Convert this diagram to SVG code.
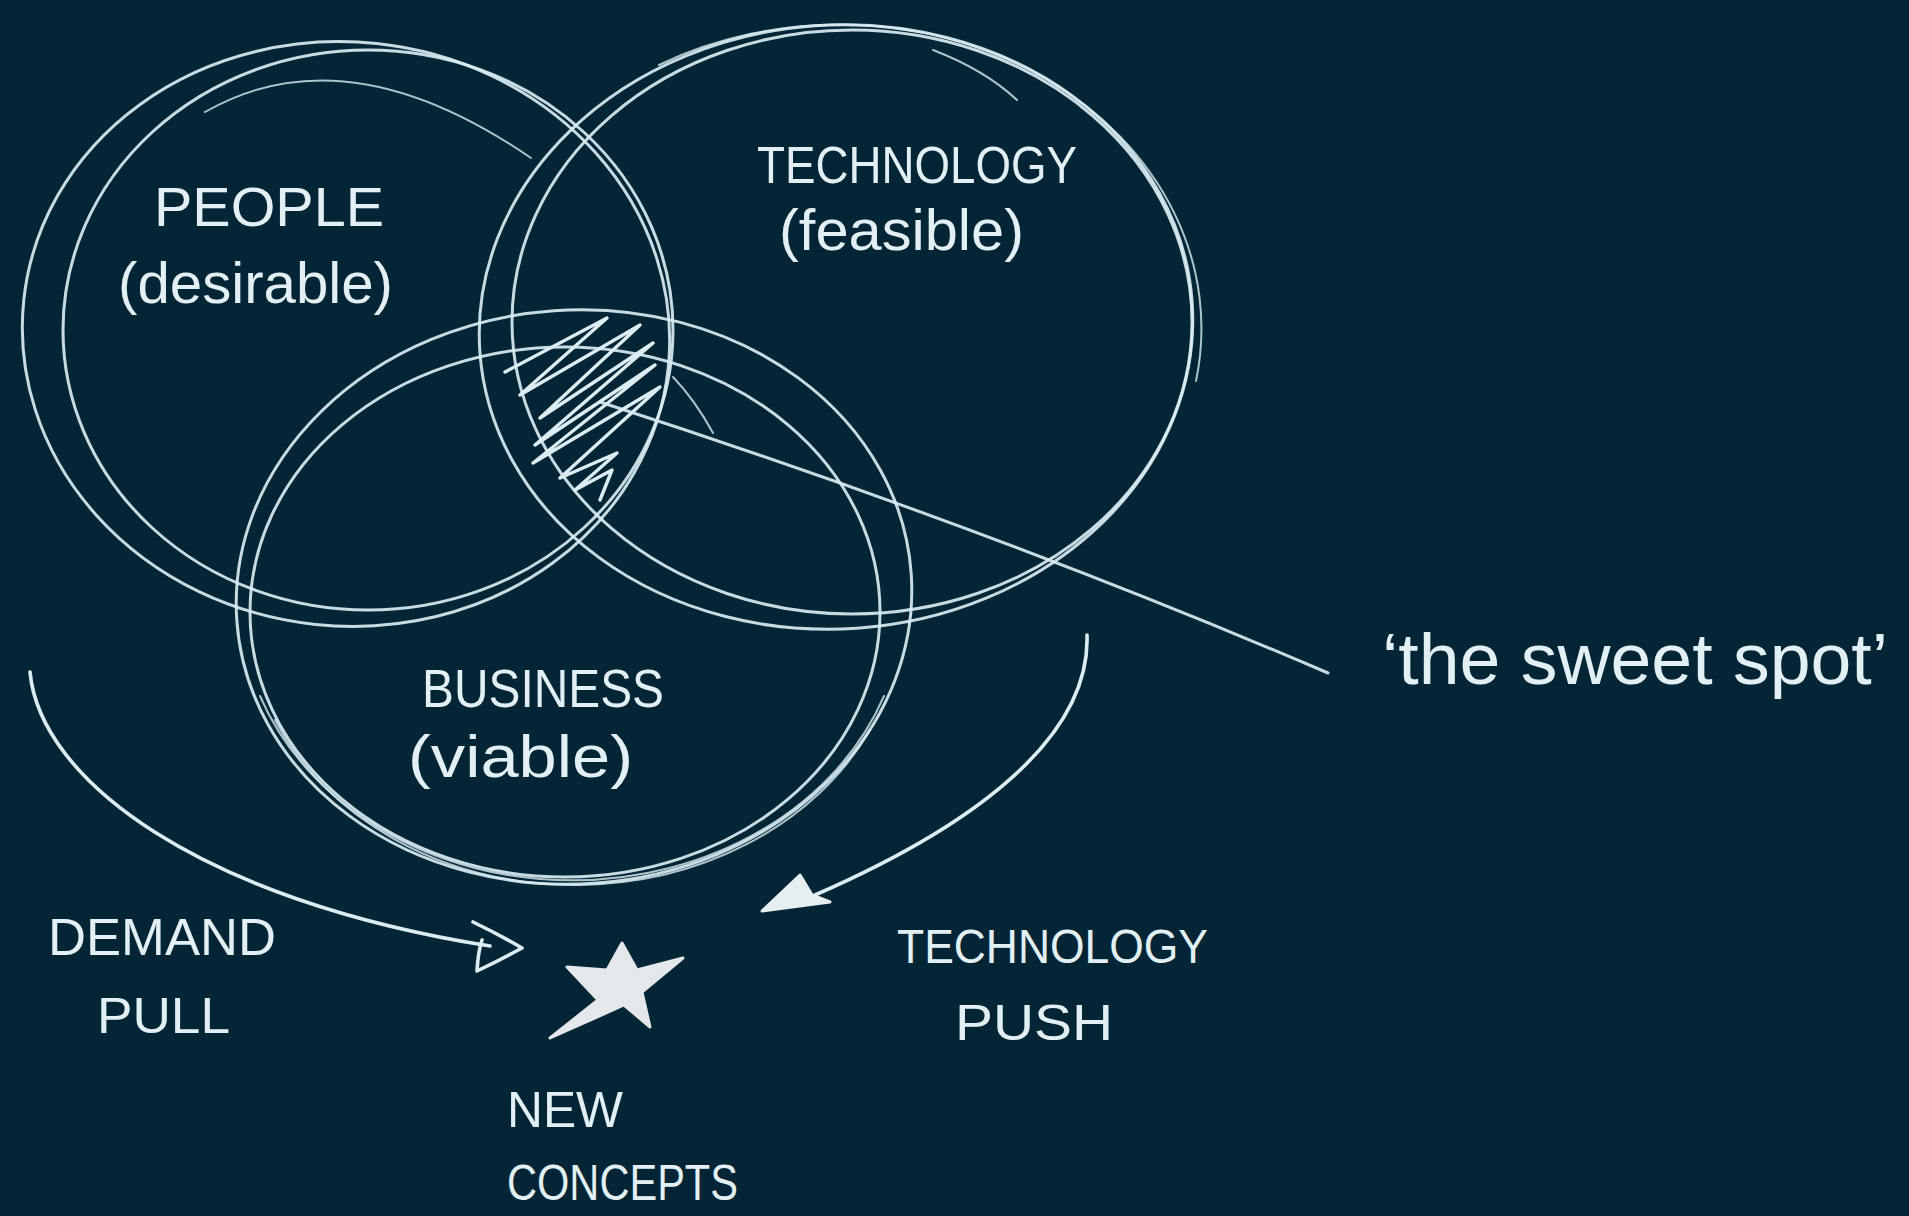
<svg xmlns="http://www.w3.org/2000/svg" width="1909" height="1216" viewBox="0 0 1909 1216">
<style>
.bg{fill:#032536}
.ln{fill:none;stroke:#d8ecf1;stroke-width:3;stroke-linecap:round;stroke-linejoin:round;opacity:0.92}
.thin{fill:none;stroke:#d8ecf1;stroke-width:2;stroke-linecap:round;opacity:0.8}
.hatch{fill:none;stroke:#dcedf2;stroke-width:3.4;stroke-linecap:round;stroke-linejoin:round}
.arr{fill:none;stroke:#dcedf1;stroke-width:3.6;stroke-linecap:round;stroke-linejoin:round}
.t{font-family:"Liberation Sans","DejaVu Sans",sans-serif;fill:#e2f0f3;font-weight:normal}
</style>
<rect class="bg" x="0" y="0" width="1909" height="1216"/>

<g id="node-people">
<ellipse class="ln" cx="346" cy="334" rx="324" ry="292" transform="rotate(6 346 334)"/>
<ellipse class="ln" cx="368" cy="330" rx="305" ry="280"/>
<path class="thin" d="M205,112 Q346,31 531,158"/>
<text class="t" x="154" y="226" font-size="56" textLength="230" lengthAdjust="spacingAndGlyphs">PEOPLE</text>
<text class="t" x="118" y="303" font-size="58" textLength="275" lengthAdjust="spacingAndGlyphs">(desirable)</text>
</g>

<g id="node-technology">
<ellipse class="ln" cx="836" cy="327" rx="357" ry="302" transform="rotate(-4 836 327)"/>
<ellipse class="ln" cx="852" cy="322" rx="340" ry="292"/>
<path class="thin" d="M659,65 A362 304 0 0 1 1196,381"/>
<path class="thin" d="M933,50 Q985,70 1017,100"/>
<text class="t" x="757" y="183" font-size="52" textLength="320" lengthAdjust="spacingAndGlyphs">TECHNOLOGY</text>
<text class="t" x="779" y="250" font-size="58" textLength="245" lengthAdjust="spacingAndGlyphs">(feasible)</text>
</g>

<g id="node-business">
<ellipse class="ln" cx="574" cy="597" rx="338" ry="287" transform="rotate(-4 574 597)"/>
<ellipse class="ln" cx="565" cy="612" rx="315" ry="265"/>
<path class="thin" d="M884,696 A332 280 0 0 1 260,696"/>
<path class="thin" d="M870,730 A328 276 0 0 1 275,720"/>
<text class="t" x="422" y="707" font-size="54" textLength="242" lengthAdjust="spacingAndGlyphs">BUSINESS</text>
<text class="t" x="408" y="777" font-size="60" textLength="225" lengthAdjust="spacingAndGlyphs">(viable)</text>
</g>

<g id="node-sweet-spot">
<path class="hatch" d="M505,372 L607,318 L520,395 L640,325 L540,418 L653,343 L535,445 L655,365 L533,463 L660,387 L560,478 L617,453 L575,490 L612,470 L600,500"/>
<path class="thin" d="M673,377 Q695,400 713,433"/>
<text class="t" x="1382" y="684" font-size="72" textLength="506" lengthAdjust="spacingAndGlyphs">‘the sweet spot’</text>
</g>

<g id="node-new-concepts">
<path d="M622,943 L637,970 L683,958 L642,992 L650,1027 L624,1005 L550,1038 L598,1000 L567,967 L607,970 Z" fill="#e4e8ea" stroke="#e4e8ea" stroke-width="3" stroke-linejoin="round"/>
<text class="t" x="507" y="1127" font-size="50" textLength="116" lengthAdjust="spacingAndGlyphs">NEW</text>
<text class="t" x="507" y="1200" font-size="50" textLength="231" lengthAdjust="spacingAndGlyphs">CONCEPTS</text>
</g>

<g id="node-demand-pull">
<text class="t" x="48" y="955" font-size="52" textLength="228" lengthAdjust="spacingAndGlyphs">DEMAND</text>
<text class="t" x="97" y="1033" font-size="50" textLength="133" lengthAdjust="spacingAndGlyphs">PULL</text>
</g>

<g id="node-technology-push">
<text class="t" x="897" y="963" font-size="48" textLength="311" lengthAdjust="spacingAndGlyphs">TECHNOLOGY</text>
<text class="t" x="955" y="1040" font-size="50" textLength="158" lengthAdjust="spacingAndGlyphs">PUSH</text>
</g>

<g id="connectors">
<path class="ln" d="M600,402 Q990,528 1328,673"/>
<path class="arr" d="M30,672 C40,780 200,900 490,946"/>
<path class="arr" d="M473,922 Q500,935 522,948 Q500,960 477,971 Q478,952 482,940"/>
<path class="arr" d="M1087,635 C1090,720 1010,810 815,895"/>
<path d="M762,911 L800,875 L812,895 L830,902 Z" fill="#e6eef0" stroke="#e6eef0" stroke-width="3" stroke-linejoin="round"/>
</g>
</svg>
